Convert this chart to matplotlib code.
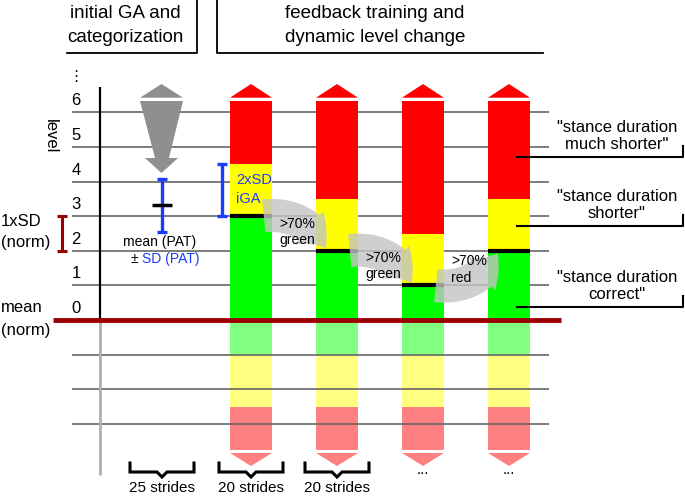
import matplotlib
matplotlib.use("Agg")
import matplotlib.pyplot as plt
from matplotlib.patches import Polygon, FancyArrowPatch

plt.rcParams['font.family'] = ['Liberation Sans', 'DejaVu Sans']

# level grid and labels
grid_levels = [-3, -2, -1, 1, 2, 3, 4, 5, 6]
level_labels = [0, 1, 2, 3, 4, 5, 6]

# initial gait analysis of the patient (levels)
pat_mean = 3.32
pat_low = 2.54
pat_high = 4.07
norm_sd = (2, 3)          # 1xSD (norm)
iga_band = (3, 4.5)       # 2xSD iGA

# feedback blocks: top of green and top of yellow zone (levels)
green_top = [3, 2, 1, 2]
yellow_top = [4.5, 3.5, 2.5, 3.5]
red_top = 6.33
arrow_text = [">70%\ngreen", ">70%\ngreen", ">70%\nred"]
stride_labels = ["25 strides", "20 strides", "20 strides", "...", "..."]
zone_labels = ['"stance duration\nmuch shorter"', '"stance duration\nshorter"',
               '"stance duration\ncorrect"']

# pixel -> level helper for layout only
Y0, STEP = 320.0, 34.6
def py(p):
    return (Y0 - p) / STEP

fig = plt.figure(figsize=(6.85, 4.96), dpi=100)
ax = fig.add_axes([0, 0, 1, 1])
ax.set_xlim(0, 685)
ax.set_ylim(py(496), py(0))
ax.axis('off')

# header boxes
ax.plot([67, 197, 197], [py(53), py(53), py(0)], color='k', lw=1.3)
ax.plot([217, 217, 543], [py(0), py(53), py(53)], color='k', lw=1.3)
ax.text(125, py(13), "initial GA and", ha='center', va='center', fontsize=13.5)
ax.text(125, py(37), "categorization", ha='center', va='center', fontsize=13.5)
ax.text(375, py(13), "feedback training and", ha='center', va='center', fontsize=13.5)
ax.text(375, py(37), "dynamic level change", ha='center', va='center', fontsize=13.5)

# grid
ax.hlines(grid_levels, 72, 549, color='#666666', lw=1.2, zorder=1)
ax.vlines(100, 0, py(87), color='k', lw=1.6, zorder=1)
ax.vlines(100, py(475), 0, color='#b0b0b0', lw=2, zorder=1)
for lv in level_labels:
    ax.text(76, lv + 0.33, str(lv), ha='center', va='center', fontsize=12)
ax.text(76, py(77), "⋮", ha='center', va='center', fontsize=11,
        family=['DejaVu Sans'])
ax.text(50, py(136), "level", ha='center', va='center', rotation=-90, fontsize=12)

# norm
ax.hlines(0, 53, 561, color='#9b0000', lw=3.5, zorder=6)
ax.errorbar(62, sum(norm_sd) / 2, yerr=(norm_sd[1] - norm_sd[0]) / 2, color='#9b0000',
            capsize=3.6, capthick=2.2, elinewidth=2.2, zorder=5)
ax.text(1, py(222), "1xSD", ha='left', va='center', fontsize=12)
ax.text(1, py(243), "(norm)", ha='left', va='center', fontsize=12)
ax.text(1, py(308), "mean", ha='left', va='center', fontsize=12)
ax.text(1, py(330), "(norm)", ha='left', va='center', fontsize=12)

# initial GA arrow
grey = '#8f8f8f'
ax.add_patch(Polygon([(140, py(97.7)), (183, py(97.7)), (161.5, py(84))],
                     closed=True, color=grey, lw=0, zorder=3))
ax.add_patch(Polygon([(140, py(101)), (183, py(101)), (169, py(158)), (178, py(158)),
                      (161.5, py(173)), (145, py(158)), (155, py(158))],
                     closed=True, color=grey, lw=0, zorder=3))
ax.errorbar(162, (pat_low + pat_high) / 2, yerr=(pat_high - pat_low) / 2, color='#1a3cff',
            capsize=3.6, capthick=2.4, elinewidth=2.4, zorder=4)
ax.hlines(pat_mean, 152, 172, color='k', lw=2.5, zorder=5)
ax.text(160, py(242), "mean (PAT)", ha='center', va='center', fontsize=10)
ax.text(131, py(259), "±", ha='left', va='center', fontsize=10)
ax.text(142, py(259), "SD (PAT)", ha='left', va='center', fontsize=10, color='#1a3cff')

# feedback bars
W = 42
xs = [251 + 86 * i for i in range(len(green_top))]
for x, g, yl in zip(xs, green_top, yellow_top):
    ax.bar(x, g, bottom=0, width=W, color='#00ff00', lw=0, zorder=2)
    ax.bar(x, yl - g, bottom=g, width=W, color='#ffff00', lw=0, zorder=2)
    ax.bar(x, red_top - yl, bottom=yl, width=W, color='#ff0000', lw=0, zorder=2)
    ax.add_patch(Polygon([(x - W / 2, py(97.7)), (x + W / 2, py(97.7)), (x, py(84))],
                         closed=True, color='#ff0000', lw=0, zorder=2))
    ax.hlines(g, x - W / 2, x + W / 2, color='k', lw=3, zorder=4)
    # faded lower part
    ax.bar(x, -1, bottom=0, width=W, color='#80ff80', lw=0, zorder=0)
    ax.bar(x, -1.5, bottom=-1, width=W, color='#ffff80', lw=0, zorder=0)
    ax.bar(x, py(450) + 2.5, bottom=-2.5, width=W, color='#ff8080', lw=0, zorder=0)
    ax.add_patch(Polygon([(x - W / 2, py(453)), (x + W / 2, py(453)), (x, py(466))],
                         closed=True, color='#ff8080', lw=0, zorder=0))

ax.errorbar(222, sum(iga_band) / 2, yerr=(iga_band[1] - iga_band[0]) / 2, color='#1a3cff',
            capsize=3.6, capthick=2.4, elinewidth=2.4, zorder=4)
ax.text(236, py(180), "2xSD", ha='left', va='center', fontsize=10.5, color='#1a3cff', zorder=5)
ax.text(236, py(199), "iGA", ha='left', va='center', fontsize=10.5, color='#1a3cff', zorder=5)

# level change arrows
text_dy = [-0.23, -0.21, 0.68]
for i, txt in enumerate(arrow_text):
    x0 = xs[i] + W / 2 - 11
    x1 = xs[i + 1] - W / 2 + 11
    rad = -0.35 if green_top[i + 1] < green_top[i] else 0.35
    arr = FancyArrowPatch((x0, green_top[i]), (x1, green_top[i + 1]),
                          connectionstyle=f"arc3,rad={rad}",
                          arrowstyle="simple,head_width=1.25,head_length=0.75,tail_width=0.95",
                          mutation_scale=25, color='#c4c4c4', alpha=0.8, lw=0, zorder=5)
    ax.add_patch(arr)
    ax.text(xs[i] + W / 2 + 7, green_top[i] + text_dy[i] - 0.22, txt, ha='left', va='center',
            fontsize=10, linespacing=1.2, zorder=6)

# zone labels on the right
zone_y = [157, 226, 307]
for lbl, yp in zip(zone_labels, zone_y):
    ax.plot([517, 683, 683], [py(yp), py(yp), py(yp - 11)], color='k', lw=1.5, zorder=5)
    ax.text(617, py(yp - 21), lbl, ha='center', va='center', fontsize=12, linespacing=1.2)

# stride braces
brace_x = [162, 251, 337]
for xc in brace_x:
    x0, x1 = xc - 32, xc + 32
    ax.plot([x0, x0, xc - 5, xc, xc + 5, x1, x1],
            [py(463), py(472), py(472), py(477), py(472), py(472), py(463)],
            color='k', lw=2.2, solid_joinstyle='miter')
label_x = brace_x + [xs[2], xs[3]]
for xc, lbl in zip(label_x, stride_labels):
    yp = 488 if lbl != "..." else 470
    ax.text(xc, py(yp), lbl, ha='center', va='center', fontsize=11)

fig.savefig("out.png", dpi=100)
